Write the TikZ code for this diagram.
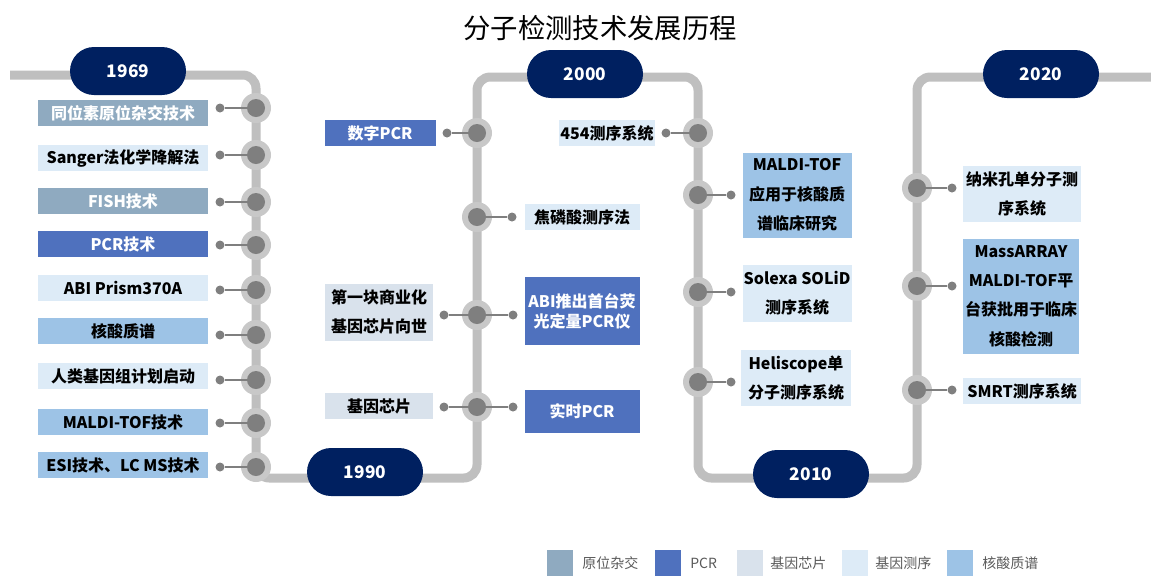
\documentclass[tikz,border=0pt]{standalone}
\usepackage{fontspec}
\setmainfont{Noto Sans CJK SC}
\usepackage{tikz}
\usetikzlibrary{positioning}

\definecolor{navy}{HTML}{002060}
\definecolor{trackgray}{HTML}{BFBFBF}
\definecolor{halogray}{HTML}{C8C8C8}
\definecolor{hubgray}{HTML}{7F7F7F}
\definecolor{hybcol}{HTML}{8FAAC0}
\definecolor{pcrcol}{HTML}{4F71BE}
\definecolor{chipcol}{HTML}{D9E2EC}
\definecolor{seqcol}{HTML}{DDEBF7}
\definecolor{mscol}{HTML}{9DC3E6}
\definecolor{legendgray}{HTML}{595959}

\begin{document}
\begin{tikzpicture}[x=0.75pt,y=-0.75pt,
	track/.style={draw=trackgray,line width=6.75pt,rounded corners=10pt},
	halo/.style={circle,fill=halogray,minimum size=22.5pt,inner sep=0pt},
	hub/.style={circle,fill=hubgray,minimum size=13.5pt,inner sep=0pt},
	dot/.style={circle,fill=hubgray,minimum size=6.75pt,inner sep=0pt},
	link/.style={draw=hubgray,line width=1.5pt},
	year/.style={fill=navy,text=white,rounded corners=18pt,minimum width=87pt,minimum height=36pt,inner sep=0pt,font=\bfseries\fontsize{13}{13}\selectfont},
	box/.style={inner sep=0pt,align=center,font=\bfseries\fontsize{12}{22}\selectfont},
	hyb/.style={fill=hybcol,text=white},
	pcr/.style={fill=pcrcol,text=white},
	pcrt/.style={fill=pcrcol,text=white,font=\bfseries\fontsize{12}{15}\selectfont},
	chip/.style={fill=chipcol},
	seq/.style={fill=seqcol},
	ms/.style={fill=mscol},
	key/.style={minimum size=19.5pt,inner sep=0pt},
	keytext/.style={anchor=west,inner sep=0pt,text=legendgray,font=\fontsize{10.5}{12}\selectfont}]
	\useasboundingbox (0,0) rectangle (1151,576);
	\node (title) at (600,28) {\fontsize{20.5}{20.5}\selectfont 分子检测技术发展历程};
	% track
	\draw[track] (10,75) -- (256,75) -- (256,478) -- (477,478) -- (477,77) -- (698,77)
		-- (698,478) -- (917,478) -- (917,77) -- (1151,77);
	% first column
	\foreach \y/\by/\txt/\kind [count=\i] in {108/113/同位素原位杂交技术/hyb, 155/158/Sanger法化学降解法/seq,
		202/201/FISH技术/hyb, 245/244/PCR技术/pcr, 290/288/ABI Prism370A/seq, 335/331/核酸质谱/ms,
		380/376/人类基因组计划启动/seq, 423/422/MALDI-TOF技术/ms, 467/465/ESI技术、LC MS技术/ms}{
		\node[halo] at (256,\y) {};
		\node[hub] (h\i) at (256,\y) {};
		\node[dot] (d\i) at (220,\y) {};
		\draw[link] (h\i) -- (d\i);
		\node[box,\kind,minimum width=127.5pt,minimum height=19.5pt] (b\i) at (123,\by) {\txt};
	}
	% other hubs
	\foreach \x/\y/\name in {477/133/ha, 477/217/hb, 477/315/hc, 477/407/hd,
		698/133/he, 698/195/hf, 698/292/hg, 698/382/hh,
		917/188/hi, 917/286/hj, 917/390/hk}{
		\node[halo] at (\x,\y) {};
		\node[hub] (\name) at (\x,\y) {};
	}
	% events
	\foreach \h/\dx/\bx/\by/\bw/\bht/\kind/\txt [count=\i] in {
		ha/-30/380/133/83.25pt/19.5pt/pcr/数字PCR,
		hb/35/582/217/86.25pt/19.5pt/seq/焦磷酸测序法,
		hc/-33/379/312/81pt/42.75pt/chip/{第一块商业化\\基因芯片向世},
		hc/36/582/311/86.25pt/51pt/pcrt/{ABI推出首台荧\\光定量PCR仪},
		hd/-33/379/406/81pt/19.5pt/chip/基因芯片,
		hd/36/582/411/86.25pt/32.25pt/pcr/实时PCR,
		he/-32/607/133/72pt/19.5pt/seq/454测序系统,
		hf/33/797/195/81.75pt/63.75pt/ms/{MALDI-TOF\\应用于核酸质\\谱临床研究},
		hg/33/797/293/81.75pt/42.75pt/seq/{Solexa SOLiD\\测序系统},
		hh/33/796/378/82.5pt/42pt/seq/{Heliscope单\\分子测序系统},
		hi/35/1022/194/88.5pt/42pt/seq/{纳米孔单分子测\\序系统},
		hj/35/1021/296/87pt/86.25pt/ms/{MassARRAY\\MALDI-TOF平\\台获批用于临床\\核酸检测},
		hk/35/1022/391/88.5pt/19.5pt/seq/SMRT测序系统}{
		\path (\h) ++(\dx,0) node[dot] (e\i) {};
		\draw[link] (\h) -- (e\i);
		\node[box,\kind,minimum width=\bw,minimum height=\bht] (t\i) at (\bx,\by) {\txt};
	}
	% years
	\node[year] (y1969) at (128,71) {1969};
	\node[year] (y1990) at (365,472) {1990};
	\node[year] (y2000) at (585,74) {2000};
	\node[year] (y2010) at (811,474) {2010};
	\node[year] (y2020) at (1041,74) {2020};
	% legend
	\foreach \x/\tx/\kind/\txt in {560/582/hyb/原位杂交, 668/690/pcr/PCR, 750/770/chip/基因芯片,
		855/875/seq/基因测序, 960/982/ms/核酸质谱}{
		\node[key,\kind] (k\kind) at (\x,563) {};
		\node[keytext] (l\kind) at (\tx,563) {\txt};
	}
\end{tikzpicture}
\end{document}
